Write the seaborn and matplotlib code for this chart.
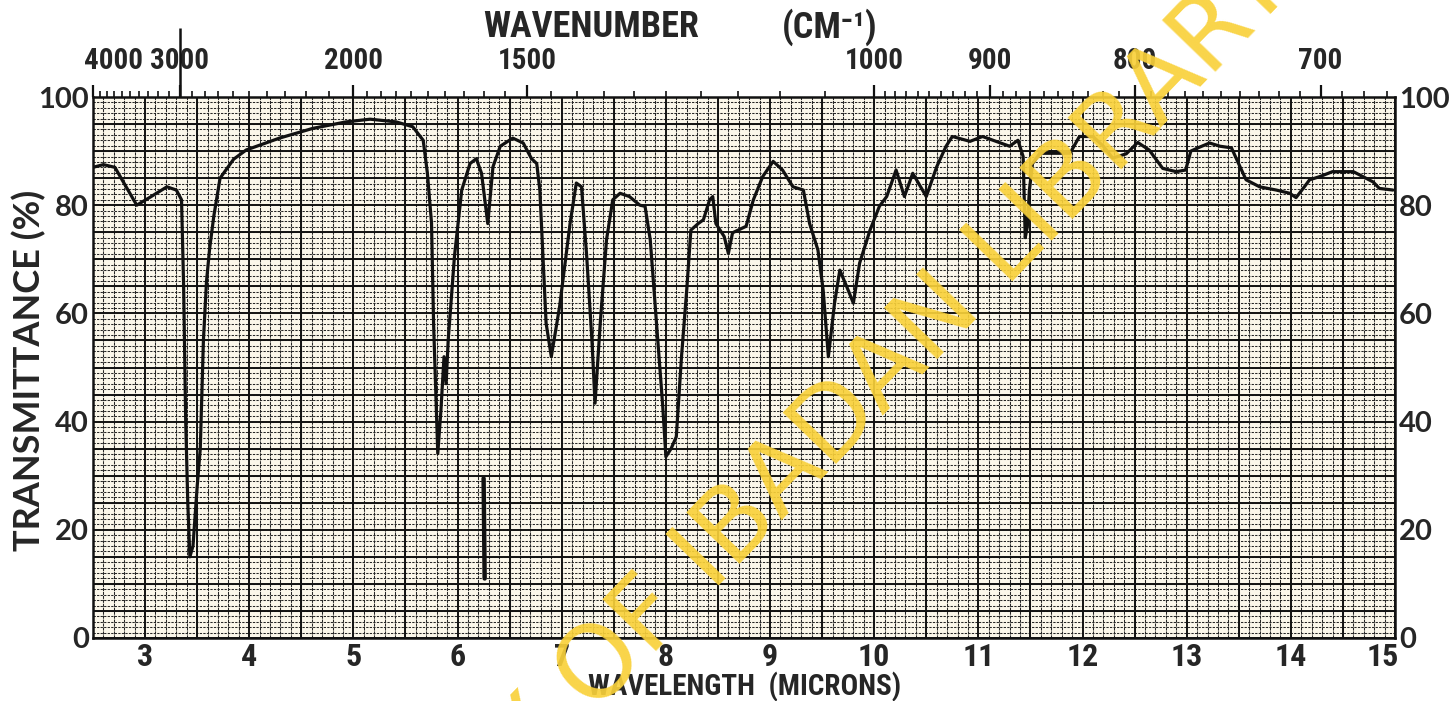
import numpy as np
import pandas as pd
import matplotlib
matplotlib.use("Agg")
import matplotlib.pyplot as plt
import matplotlib.transforms as mtransforms
from matplotlib import font_manager
from matplotlib.ticker import MultipleLocator, FixedLocator
import seaborn as sns

# ---------------- data ----------------
wavelength_um = [
    2.50, 2.60, 2.71, 2.80, 2.92, 3.05, 3.21, 3.30, 3.35, 3.37, 3.39, 3.41, 3.43,
    3.46, 3.50, 3.53, 3.56, 3.59, 3.62, 3.66, 3.72, 3.85, 3.97, 4.29, 4.61, 4.93,
    5.16, 5.41, 5.57, 5.67, 5.71, 5.75, 5.77, 5.81, 5.84, 5.87, 5.89, 5.91, 5.97,
    6.04, 6.12, 6.18, 6.23, 6.29, 6.34, 6.41, 6.53, 6.63, 6.71, 6.76, 6.79, 6.82,
    6.85, 6.90, 6.98, 7.08, 7.14, 7.19, 7.24, 7.29, 7.32, 7.37, 7.43, 7.49, 7.56,
    7.65, 7.75, 7.80, 7.85, 7.91, 7.97, 8.00, 8.05, 8.10, 8.15, 8.20, 8.24, 8.31,
    8.36, 8.42, 8.45, 8.48, 8.56, 8.60, 8.64, 8.77, 8.84, 8.93, 9.03, 9.12, 9.22,
    9.32, 9.38, 9.46, 9.51, 9.56, 9.62, 9.67, 9.75, 9.80, 9.86, 9.96, 10.05, 10.12,
    10.21, 10.29, 10.37, 10.50, 10.60, 10.69, 10.75, 10.92, 11.04, 11.14, 11.30,
    11.38, 11.43, 11.45, 11.47, 11.49, 11.52, 11.59, 11.75, 11.88, 11.97, 12.10,
    12.20, 12.29, 12.42, 12.53, 12.64, 12.77, 12.90, 12.99, 13.04, 13.12, 13.22,
    13.32, 13.43, 13.51, 13.57, 13.70, 13.86, 13.99, 14.05, 14.13, 14.18, 14.28,
    14.40, 14.60, 14.69, 14.79, 14.85, 14.98,
]
transmittance_pct = [
    87.0, 87.5, 87.0, 84.0, 80.0, 81.5, 83.4, 82.8, 81.0, 65.0, 40.0, 25.0, 15.0,
    17.0, 28.0, 35.0, 55.0, 66.0, 72.0, 78.0, 85.0, 88.5, 90.2, 92.4, 94.2, 95.4,
    95.9, 95.4, 94.5, 92.0, 86.0, 76.7, 58.0, 34.1, 42.0, 52.0, 47.0, 55.0, 70.5,
    82.8, 87.7, 88.6, 85.9, 76.6, 87.1, 90.9, 92.4, 91.5, 88.6, 87.7, 82.8, 70.5,
    58.2, 52.0, 61.3, 76.6, 84.1, 83.4, 70.5, 55.0, 43.4, 58.2, 73.6, 81.0, 82.2,
    81.6, 80.0, 79.8, 73.6, 58.2, 42.8, 33.5, 35.0, 37.2, 52.0, 64.3, 75.4, 76.6,
    77.3, 81.0, 81.6, 76.6, 74.2, 71.1, 74.9, 76.1, 81.0, 85.3, 88.1, 86.5, 83.4,
    82.8, 76.6, 71.7, 64.3, 52.0, 62.0, 68.0, 64.3, 61.9, 69.3, 75.4, 79.8, 81.6,
    86.5, 81.6, 85.9, 81.6, 87.1, 90.9, 92.7, 91.8, 92.7, 92.0, 90.9,
    92.0, 89.0, 74.0, 76.0, 82.8, 87.7, 89.6, 89.6, 89.6, 92.7, 92.7,
    90.9, 88.7, 89.5, 91.6, 90.2, 86.8, 86.2, 86.5, 90.0, 90.7, 91.5,
    90.9, 90.6, 87.2, 84.7, 83.4, 82.8, 82.2, 81.4, 83.4, 84.7, 85.3,
    86.2, 86.2, 85.3, 84.3, 83.1, 82.8,
]
# separate calibration stroke near 6.25 microns
cal_wavelength_um = [6.25, 6.26]
cal_transmittance_pct = [29.5, 11.0]

x_tick_values = [3, 4, 5, 6, 7, 8, 9, 10, 11, 12, 13, 14, 15]
y_tick_values = [0, 20, 40, 60, 80, 100]
wavenumber_labels = [4000, 3000, 2000, 1500, 1000, 900, 800, 700]

# ---------------- fonts ----------------
sns.set_theme(style="white")
names = {f.name for f in font_manager.fontManager.ttflist}
NARROW = [n for n in ["Liberation Sans Narrow", "Roboto Condensed", "Roboto"] if n in names] + ["DejaVu Sans"]
plt.rcParams["font.family"] = NARROW
HUMAN = ["Lato", "DejaVu Sans"]

# ---------------- figure ----------------
W, H = 1450, 701
fig = plt.figure(figsize=(W / 100, H / 100), dpi=100)
fig.patch.set_facecolor("white")
ax = fig.add_axes([93 / W, 1 - 638 / H, (1395 - 93) / W, (638 - 97) / H])
ax.set_facecolor("#fbf7ea")

df = pd.DataFrame({"wavelength": wavelength_um, "transmittance": transmittance_pct})
cal = pd.DataFrame({"wavelength": cal_wavelength_um, "transmittance": cal_transmittance_pct})
sns.lineplot(data=df, x="wavelength", y="transmittance", sort=False, estimator=None,
             color="#111111", lw=2.3, ax=ax, zorder=6)
sns.lineplot(data=cal, x="wavelength", y="transmittance", sort=False, estimator=None,
             color="#111111", lw=3.2, ax=ax, zorder=6)

ax.set_xlim(2.5, 15)
ax.set_ylim(0, 100)

# chart-paper grid
ax.xaxis.set_major_locator(FixedLocator(x_tick_values))
ax.xaxis.set_minor_locator(MultipleLocator(0.1))
ax.yaxis.set_major_locator(FixedLocator(y_tick_values))
ax.yaxis.set_minor_locator(MultipleLocator(1))
ax.grid(False)
ax.grid(which="minor", axis="x", color="#262626", lw=0.75, ls=(0, (3, 0.8)), zorder=1)
ax.grid(which="minor", axis="y", color="#262626", lw=0.75, ls=(0, (2.2, 1.2)), zorder=1)
for xv in np.arange(2.5, 15.01, 0.5):
    ax.axvline(xv, color="#111111", lw=1.4, zorder=2)
for yv in np.arange(0, 100.01, 5):
    ax.axhline(yv, color="#111111", lw=1.4, zorder=2)
for s in ax.spines.values():
    s.set_visible(True)
    s.set_color("#111111")
    s.set_linewidth(1.8)

ax.tick_params(axis="x", which="both", length=0, labelsize=23, pad=3)
ax.tick_params(axis="y", which="both", length=0, labelsize=21, pad=3,
               left=False, right=False, labelleft=True, labelright=True)
for lbl in ax.get_xticklabels():
    lbl.set_fontweight("bold")
last = ax.get_xticklabels()[-1]
last.set_transform(last.get_transform() + mtransforms.ScaledTranslation(-0.12, 0, fig.dpi_scale_trans))
for lbl in ax.get_yticklabels():
    lbl.set_family(HUMAN)
    lbl.set_fontweight("bold")

ax.set_xlabel("WAVELENGTH  (MICRONS)", fontsize=21, fontweight="bold")
ax.xaxis.set_label_coords(0.5008, -0.063)
ax.set_ylabel("TRANSMITTANCE (%)", fontsize=26, fontweight="bold", family=HUMAN)
ax.yaxis.set_label_coords(-0.036, 0.495)

# top wavenumber axis
inv = lambda v: 1e4 / np.asarray(v, dtype=float)
sec = ax.secondary_xaxis("top", functions=(inv, inv))
sec.set_xticks(wavenumber_labels)
sec.set_xticklabels([str(v) for v in wavenumber_labels])
minor_wn = np.concatenate([np.arange(4000, 2000, -100), np.arange(2000, 1000, -50),
                           np.arange(1000, 649, -10)])
sec.xaxis.set_minor_locator(FixedLocator(minor_wn))
sec.tick_params(which="major", length=9, width=1.6, labelsize=21, pad=7, color="#111111")
sec.tick_params(which="minor", length=4, width=1.2, color="#111111")
sec.spines["top"].set_visible(False)
for lbl in sec.get_xticklabels():
    lbl.set_fontweight("bold")
first = sec.get_xticklabels()[0]
first.set_transform(first.get_transform() + mtransforms.ScaledTranslation(0.21, 0, fig.dpi_scale_trans))

# long index tick at 3000 cm-1
sec2 = ax.secondary_xaxis("top", functions=(inv, inv))
sec2.set_xticks([3000])
sec2.set_xticklabels([""])
sec2.tick_params(which="major", length=50, width=1.8, color="#111111")
sec2.xaxis.set_minor_locator(FixedLocator([]))
sec2.spines["top"].set_visible(False)

fig.text(591 / W, 1 - 27 / H, "WAVENUMBER", fontsize=26, fontweight="bold",
         ha="center", va="center", family=NARROW)
fig.text(830 / W, 1 - 27 / H, "(CM\u207b\u00b9)", fontsize=26, fontweight="bold",
         ha="center", va="center", family=NARROW)

# library watermark
fig.text(705 / W, 1 - 560 / H, "UNIVERSITY OF IBADAN LIBRARY", rotation=46,
         rotation_mode="anchor", ha="center", va="center", fontsize=73,
         family=["DejaVu Sans"], color="#f9d13a", alpha=0.92, zorder=10)

fig.savefig("out.png", dpi=100)
